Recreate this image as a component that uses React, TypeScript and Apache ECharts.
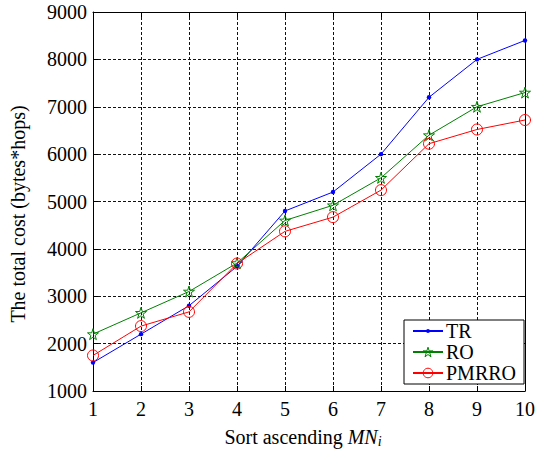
import React, { useEffect, useRef } from "react";
import * as echarts from "echarts";

const categories = [1, 2, 3, 4, 5, 6, 7, 8, 9, 10];
const trValues = [1600, 2200, 2800, 3630, 4800, 5200, 6000, 7200, 8000, 8400];
const roValues = [2200, 2650, 3100, 3700, 4600, 4920, 5500, 6400, 7000, 7300];
const pmrroValues = [1750, 2370, 2670, 3690, 4370, 4670, 5240, 6220, 6520, 6720];
const yTicks = { min: 1000, max: 9000, step: 1000 };
const seriesNames = ["TR", "RO", "PMRRO"];
const seriesColors = ["#0000ff", "#008000", "#ff0000"];
const xTitle = "Sort ascending {it|MN}{sub|i}";
const yTitle = "The total cost (bytes*hops)";

const FONT = "Times New Roman";
const STAR =
  "path://M50,0 L61.2,34.5 L97.6,34.5 L68.2,55.9 L79.4,90.5 L50,69.1 L20.6,90.5 L31.8,55.9 L2.4,34.5 L38.8,34.5 Z";
const SMALL_DOT =
  "path://M0,0 M10,10 M5,3 A2,2 0 1 1 5,7 A2,2 0 1 1 5,3 Z";

export default function App() {
  const ref = useRef<HTMLDivElement>(null);
  useEffect(() => {
    if (!ref.current) return;
    const chart = echarts.init(ref.current, null, { renderer: "svg" });
    const pairs = (vals: number[]) => categories.map((c, i) => [c, vals[i]]);
    const axisLine = { show: true, lineStyle: { color: "#000", width: 1 } };
    const tick = { show: true, inside: true, length: 5, lineStyle: { color: "#000", width: 1 } };
    const split = { show: true, lineStyle: { color: "#111", width: 1, type: [3, 2] as any } };
    const yLabel = {
      color: "#000",
      fontSize: 20,
      fontFamily: FONT,
      margin: 6,
      formatter: (v: number) => String(v),
    };
    const xLabel = { ...yLabel, margin: 8 };
    chart.setOption({
      animation: false,
      backgroundColor: "#fff",
      textStyle: { fontFamily: FONT },
      grid: { left: 93, right: 6, top: 12, bottom: 63, containLabel: false },
      graphic: [
        {
          type: "text",
          x: 303,
          y: 437,
          style: {
            text: xTitle,
            fill: "#000",
            fontSize: 20,
            fontFamily: FONT,
            align: "center",
            verticalAlign: "middle",
            rich: {
              it: { fontSize: 20, fontStyle: "italic", fontFamily: FONT, fill: "#000" },
              sub: {
                fontSize: 14,
                fontStyle: "italic",
                fontFamily: FONT,
                fill: "#000",
                padding: [9, 0, 0, 0],
              },
            },
          },
        },
        {
          type: "text",
          x: 18,
          y: 214,
          rotation: Math.PI / 2,
          style: {
            text: yTitle,
            fill: "#000",
            fontSize: 20,
            fontFamily: FONT,
            align: "center",
            verticalAlign: "middle",
          },
        },
      ],
      xAxis: [
        {
          type: "value",
          min: 1,
          max: 10,
          interval: 1,
          position: "bottom",
          axisLine,
          axisTick: tick,
          splitLine: split,
          axisLabel: xLabel,
        },
        {
          type: "value",
          min: 1,
          max: 10,
          interval: 1,
          position: "top",
          axisLine,
          axisTick: tick,
          splitLine: { show: false },
          axisLabel: { show: false },
        },
      ],
      yAxis: [
        {
          type: "value",
          min: yTicks.min,
          max: yTicks.max,
          interval: yTicks.step,
          position: "left",
          axisLine,
          axisTick: tick,
          splitLine: split,
          axisLabel: yLabel,
        },
        {
          type: "value",
          min: yTicks.min,
          max: yTicks.max,
          interval: yTicks.step,
          position: "right",
          axisLine,
          axisTick: tick,
          splitLine: { show: false },
          axisLabel: { show: false },
        },
      ],
      legend: {
        orient: "vertical",
        left: 404,
        top: 320,
        width: 121,
        backgroundColor: "#fff",
        borderColor: "#000",
        borderWidth: 1,
        borderRadius: 0,
        padding: [1, 8, 1, 8],
        itemWidth: 30,
        itemHeight: 12,
        itemGap: 1,
        textStyle: {
          color: "#000",
          fontSize: 20,
          fontFamily: FONT,
          lineHeight: 19,
          padding: [0, 0, 0, -2],
        },
        data: [
          { name: seriesNames[0], itemStyle: { color: seriesColors[0] } },
          {
            name: seriesNames[1],
            itemStyle: { color: "rgba(255,255,255,0)", borderColor: seriesColors[1], borderWidth: 1 },
          },
          {
            name: seriesNames[2],
            itemStyle: { color: "rgba(255,255,255,0)", borderColor: seriesColors[2], borderWidth: 1 },
          },
        ],
      },
      series: [
        {
          name: seriesNames[0],
          type: "line",
          data: pairs(trValues),
          symbol: SMALL_DOT,
          symbolSize: 11,
          lineStyle: { color: seriesColors[0], width: 1 },
          itemStyle: { color: seriesColors[0] },
        },
        {
          name: seriesNames[1],
          type: "line",
          data: pairs(roValues),
          symbol: STAR,
          symbolSize: 11,
          lineStyle: { color: seriesColors[1], width: 1 },
          itemStyle: { color: "rgba(255,255,255,0)", borderColor: seriesColors[1], borderWidth: 1 },
        },
        {
          name: seriesNames[2],
          type: "line",
          data: pairs(pmrroValues),
          symbol: "circle",
          symbolSize: 11,
          lineStyle: { color: seriesColors[2], width: 1 },
          itemStyle: { color: "rgba(255,255,255,0)", borderColor: seriesColors[2], borderWidth: 1 },
        },
      ],
    });
    return () => chart.dispose();
  }, []);
  return (
    <div
      ref={ref}
      style={{ position: "fixed", left: 0, top: 0, width: 538, height: 454, background: "#fff" }}
    />
  );
}
